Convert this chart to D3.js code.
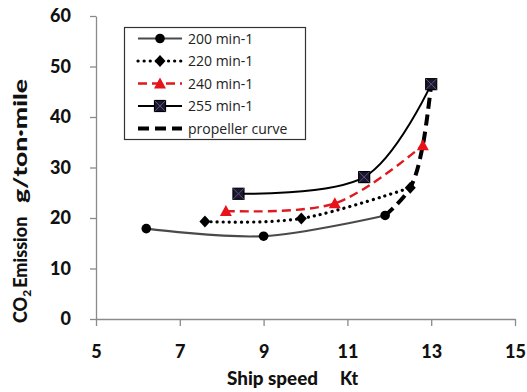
<!DOCTYPE html>
<html>
<head>
<meta charset="utf-8">
<script src="https://cdn.jsdelivr.net/npm/d3@7"></script>
<style>
  html, body { margin: 0; padding: 0; background: #fff; }
  svg { display: block; }
</style>
</head>
<body>
<svg id="chart" width="527" height="392"></svg>
<script>
// Ship speed (kt) vs CO2 emission (g/ton·mile) at several engine speeds
const speed200 = [6.2, 9.0, 11.9];
const co2_200  = [17.9, 16.4, 20.5];
const speed220 = [7.6, 9.9, 12.5];
const co2_220  = [19.3, 19.9, 26.0];
const speed240 = [8.1, 10.7, 12.8];
const co2_240  = [21.4, 22.9, 34.4];
const speed255 = [8.4, 11.4, 13.0];
const co2_255  = [24.8, 28.1, 46.5];
// propeller curve links the top-speed points of each engine speed
const speedProp = [11.9, 12.5, 12.8, 13.0];
const co2Prop   = [20.5, 26.0, 34.4, 46.5];

const xTicks = [5, 7, 9, 11, 13, 15];
const yTicks = [0, 10, 20, 30, 40, 50, 60];
const legendLabels = ["200 min-1", "220 min-1", "240 min-1", "255 min-1", "propeller curve"];

const svg = d3.select("#chart");
const x = d3.scaleLinear().domain([5, 15]).range([96, 515]);
const y = d3.scaleLinear().domain([0, 60]).range([319, 16]);

const axisFont = "Lato, 'Open Sans', sans-serif";

// axes
const gx = svg.append("g").attr("transform", `translate(0,${y(0)})`)
  .call(d3.axisBottom(x).tickValues(xTicks).tickSize(7).tickPadding(21).tickSizeOuter(0));
const gy = svg.append("g").attr("transform", `translate(${x(5)},0)`)
  .call(d3.axisLeft(y).tickValues(yTicks).tickSize(6).tickPadding(19).tickSizeOuter(0));
[gx, gy].forEach(g => {
  g.selectAll("path.domain, line").attr("stroke", "#8a8a8a").attr("stroke-width", 1.3);
  g.selectAll("text").attr("font-family", axisFont).attr("font-weight", 900)
    .attr("font-size", 18).attr("fill", "#111");
});
gx.selectAll("text").attr("dy", 0).attr("y", 39);

// axis titles
const titleAttrs = t => t.attr("font-family", axisFont).attr("font-weight", 900)
  .attr("font-size", 18).attr("fill", "#111");
titleAttrs(svg.append("text").attr("x", 227).attr("y", 385)
  .attr("textLength", 91).attr("lengthAdjust", "spacingAndGlyphs").text("Ship speed"));
titleAttrs(svg.append("text").attr("x", 340).attr("y", 385)
  .attr("textLength", 18).attr("lengthAdjust", "spacingAndGlyphs").text("Kt"));

const yt1 = titleAttrs(svg.append("text").attr("transform", "translate(27,323) rotate(-90)"));
yt1.append("tspan").text("CO");
yt1.append("tspan").attr("font-size", 12).attr("dy", 4).text("2");
yt1.append("tspan").attr("dy", -4).attr("dx", 2).text("Emission");
titleAttrs(svg.append("text").attr("transform", "translate(27,203) rotate(-90)")
  .attr("textLength", 124).attr("lengthAdjust", "spacingAndGlyphs").text("g/ton·mile"));

const line = d3.line().x(d => x(d[0])).y(d => y(d[1])).curve(d3.curveCardinal.tension(0));
const zip = (a, b) => a.map((v, i) => [v, b[i]]);

const series = [
  { pts: zip(speed200, co2_200), stroke: "#4a4a4a", width: 2.2, dash: null, cap: "butt", marker: "circle", color: "#000" },
  { pts: zip(speed220, co2_220), stroke: "#000", width: 3.2, dash: "0.1 6", cap: "round", marker: "diamond", color: "#000" },
  { pts: zip(speed240, co2_240), stroke: "#e0191e", width: 2.4, dash: "9 5", cap: "butt", marker: "triangle", color: "#e8121a" },
  { pts: zip(speed255, co2_255), stroke: "#000", width: 2, dash: null, cap: "butt", marker: "square", color: "#1c1730" },
];

// propeller curve drawn first so the engine-speed markers sit on top
svg.append("path").attr("d", line(zip(speedProp, co2Prop)))
  .attr("fill", "none").attr("stroke", "#000").attr("stroke-width", 4)
  .attr("stroke-dasharray", "11 6");

series.forEach(s => {
  svg.append("path").attr("d", line(s.pts)).attr("fill", "none")
    .attr("stroke", s.stroke).attr("stroke-width", s.width)
    .attr("stroke-dasharray", s.dash).attr("stroke-linecap", s.cap);
});

function drawMarker(g, type, cx, cy, color) {
  if (type === "circle") {
    g.append("circle").attr("cx", cx).attr("cy", cy).attr("r", 4.8).attr("fill", color);
  } else if (type === "diamond") {
    g.append("path").attr("d", `M${cx},${cy - 6}L${cx + 5.5},${cy}L${cx},${cy + 6}L${cx - 5.5},${cy}Z`).attr("fill", color);
  } else if (type === "triangle") {
    g.append("path").attr("d", `M${cx},${cy - 6}L${cx + 6},${cy + 5}L${cx - 6},${cy + 5}Z`).attr("fill", color);
  } else if (type === "square") {
    const h = 5.5;
    g.append("rect").attr("x", cx - h).attr("y", cy - h).attr("width", 2 * h).attr("height", 2 * h)
      .attr("fill", color).attr("stroke", "#000").attr("stroke-width", 1.2);
    g.append("path").attr("d", `M${cx - h},${cy - h}L${cx + h},${cy + h}M${cx + h},${cy - h}L${cx - h},${cy + h}`)
      .attr("stroke", "#5a5278").attr("stroke-width", 1);
  }
}

const markers = svg.append("g");
series.forEach(s => s.pts.forEach(p => drawMarker(markers, s.marker, x(p[0]), y(p[1]), s.color)));

// legend
const lg = svg.append("g");
lg.append("rect").attr("x", 124.5).attr("y", 27.5).attr("width", 181).attr("height", 112)
  .attr("fill", "#fff").attr("stroke", "#333").attr("stroke-width", 1.2);
const rowY = [38.5, 61, 83.5, 106, 128.5];
const legendStyles = [
  series[0], series[1], series[2], series[3],
  { stroke: "#000", width: 4, dash: "11 6", cap: "butt", marker: null }
];
legendStyles.forEach((s, i) => {
  lg.append("line").attr("x1", 138).attr("x2", 182).attr("y1", rowY[i]).attr("y2", rowY[i])
    .attr("stroke", s.stroke).attr("stroke-width", s.width)
    .attr("stroke-dasharray", s.dash).attr("stroke-linecap", s.cap);
  if (s.marker) drawMarker(lg, s.marker, 160, rowY[i], s.color);
  lg.append("text").attr("x", 188).attr("y", rowY[i] + 5)
    .attr("font-family", "'Open Sans', sans-serif").attr("font-size", 14)
    .attr("fill", "#222").text(legendLabels[i]);
});
</script>
</body>
</html>
